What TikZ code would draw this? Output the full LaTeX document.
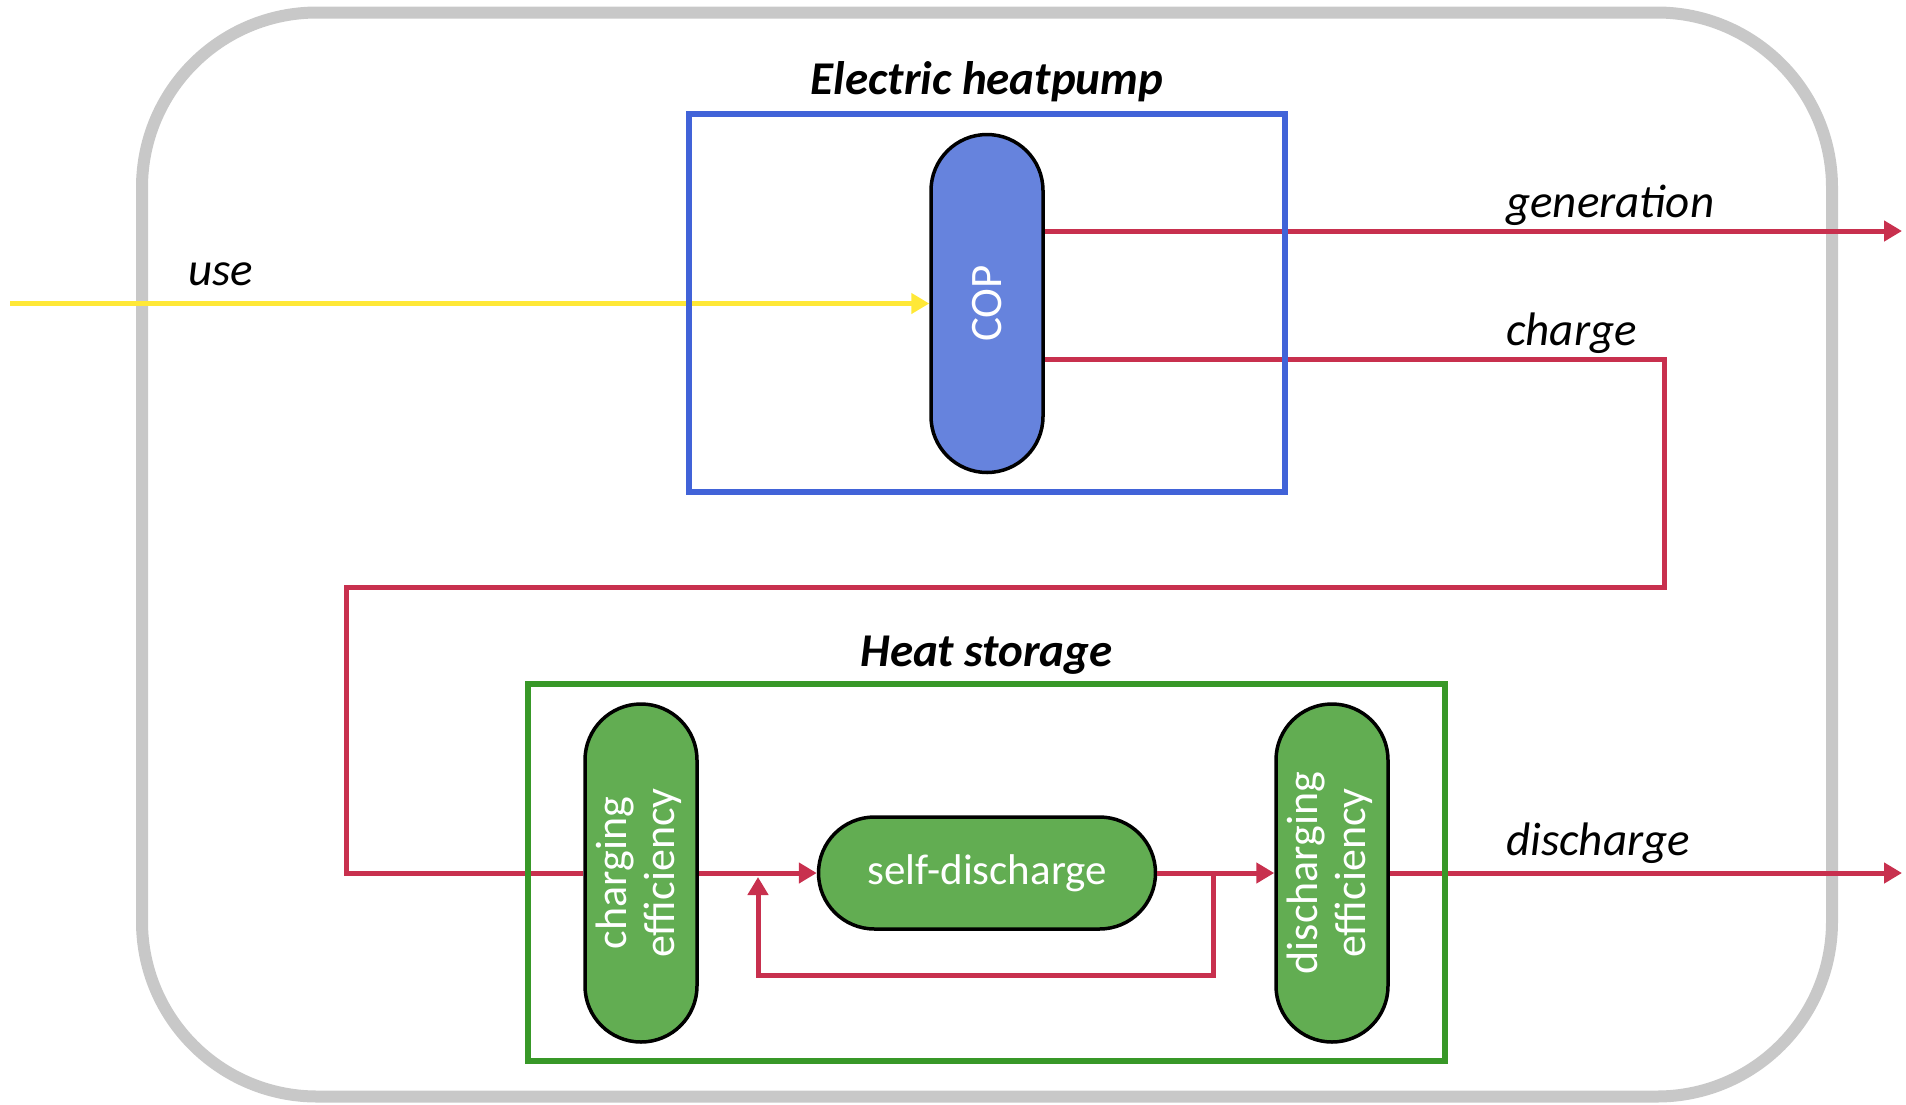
\documentclass[tikz,border=0pt]{standalone}
\usepackage{fontspec}
\setmainfont{Carlito}
\usepackage{graphicx}
\usetikzlibrary{arrows.meta,positioning}
\definecolor{framegray}{RGB}{200,200,200}
\definecolor{pumpblue}{RGB}{65,99,216}
\definecolor{copblue}{RGB}{102,131,221}
\definecolor{storegreen}{RGB}{56,152,40}
\definecolor{capsgreen}{RGB}{98,173,82}
\definecolor{heatred}{RGB}{200,48,78}
\definecolor{elecyellow}{RGB}{255,232,55}

\begin{document}
\begin{tikzpicture}[
    x=1pt, y=-1pt,
    every node/.style={align=center, inner sep=0pt},
    capsule/.style={rectangle, rounded corners=56pt, draw=black, line width=3.5pt, text=white, font=\fontsize{44}{48}\selectfont},
    vcapsule/.style={capsule, minimum width=112pt, minimum height=338pt},
    hcapsule/.style={capsule, minimum width=337pt, minimum height=112pt},
    frame/.style={rectangle, line width=5.5pt},
    title/.style={font=\fontsize{47}{56}\selectfont\bfseries\itshape, anchor=base},
    flowlabel/.style={font=\fontsize{47}{56}\selectfont\itshape, anchor=base west},
    flow/.style={line width=5pt, draw=heatred},
    arrow/.style={flow, -{Triangle[length=18pt,width=20pt]}}
]
\useasboundingbox (0,0) rectangle (1906,1104);

% System boundary
\node[draw=framegray, line width=12pt, rounded corners=175pt, minimum width=1690pt, minimum height=1084pt] (system_box) at (987,554.5) {};

% Electric heatpump
\node[vcapsule, fill=copblue, font=\fontsize{45}{48}\selectfont] (cop) at (987,303.5) {\rotatebox{90}{COP}};

% Heat storage
\node[hcapsule, fill=capsgreen, font=\fontsize{43}{48}\selectfont] (self_discharge) at (987,873) {self-discharge};
\node[vcapsule, fill=capsgreen, left=118pt of self_discharge] (charging_eff) {\rotatebox{90}{\begin{tabular}{@{}c@{}}charging\\efficiency\end{tabular}}};
\node[vcapsule, fill=capsgreen, right=117pt of self_discharge] (discharging_eff) {\rotatebox{90}{\begin{tabular}{@{}c@{}}discharging\\efficiency\end{tabular}}};

% Flow end points
\coordinate (use_start) at (10,303.5);
\coordinate (generation_end) at (1902,231);
\coordinate (charge_turn) at (1664,587);
\coordinate (charge_back) at (346,587);
\coordinate (discharge_end) at (1902,873);
\coordinate (loop_out) at (1213,873);
\coordinate (loop_in) at (758,873);

% Flows
\draw[arrow, draw=elecyellow] (use_start) -- (cop);
\draw[arrow] (cop.east |- generation_end) -- (generation_end);
\draw[flow] ([yshift=-56pt]cop.east) -| (charge_turn) -- (charge_back) |- (charging_eff);
\draw[arrow] (charging_eff) -- (self_discharge);
\draw[arrow] (self_discharge) -- (discharging_eff);
\draw[arrow] (discharging_eff) -- (discharge_end);
\draw[arrow] (loop_out) -- ++(0,102) -| ([yshift=-4pt]loop_in);

% Frames and titles
\node[frame, draw=pumpblue, minimum width=596pt, minimum height=378pt] (heatpump_box) at (987,303) {};
\node[frame, draw=storegreen, minimum width=917pt, minimum height=377pt] (storage_box) at (986.5,872.5) {};
\node[title] (heatpump_title) at ([yshift=17pt]heatpump_box.north) {Electric heatpump};
\node[title] (storage_title) at ([yshift=15pt]storage_box.north) {Heat storage};

% Flow labels
\node[flowlabel] (use_label) at (188,285) {use};
\node[flowlabel] (generation_label) at (1506,217) {generation};
\node[flowlabel] (charge_label) at (1506,345) {charge};
\node[flowlabel] (discharge_label) at (1506,855) {discharge};

\end{tikzpicture}
\end{document}
